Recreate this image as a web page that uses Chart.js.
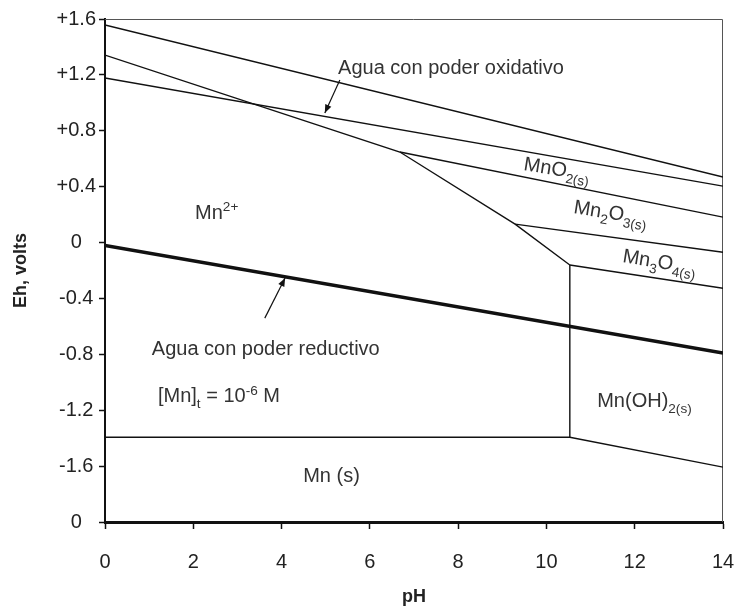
<!DOCTYPE html>
<html>
<head>
<meta charset="utf-8">
<script src="https://cdn.jsdelivr.net/npm/chart.js@4.4.1/dist/chart.umd.min.js"></script>
<style>
  html, body { margin: 0; padding: 0; background: #fff; }
  #wrap { width: 735px; height: 610px; }
</style>
</head>
<body>
<div id="wrap"><canvas id="chart-pourbaix"></canvas></div>
<script>
// limites de fase (pH, Eh en volts)
const phMnO4 = [0, 14];
const ehMnO4 = [1.557, 0.469];

const phAguaOx = [0, 14];
const ehAguaOx = [1.178, 0.404];

const phMn2 = [0, 6.68, 9.29, 10.53];
const ehMn2 = [1.342, 0.648, 0.132, -0.161];

const phMnO2 = [6.68, 14];
const ehMnO2 = [0.648, 0.182];

const phMn2O3 = [9.29, 14];
const ehMn2O3 = [0.132, -0.069];

const phMn3O4 = [10.53, 14];
const ehMn3O4 = [-0.161, -0.327];

const phVertical = [10.53, 10.53];
const ehVertical = [-0.161, -1.393];

const phMnS = [0, 10.53, 14];
const ehMnS = [-1.393, -1.393, -1.607];

const phAguaRed = [0, 14];
const ehAguaRed = [-0.02, -0.79];

const xTicks = [0, 2, 4, 6, 8, 10, 12, 14];

function pares(xs, ys) {
  return xs.map((x, i) => ({ x: x, y: ys[i] }));
}

function linea(xs, ys, ancho) {
  return {
    data: pares(xs, ys),
    showLine: true,
    borderColor: '#111',
    borderWidth: ancho,
    pointRadius: 0,
    fill: false,
    tension: 0
  };
}

// textos del diagrama: [pH, Eh, angulo, partes]
const etiquetas = [
  [5.28, 1.206, 0, [['Agua con poder oxidativo', 'n']]],
  [2.04, 0.168, 0, [['Mn', 'n'], ['2+', 'sup']]],
  [9.47, 0.519, 9, [['MnO', 'n'], ['2(s)', 'sub']]],
  [10.6, 0.211, 9, [['Mn', 'n'], ['2', 'sub'], ['O', 'n'], ['3(s)', 'sub']]],
  [11.71, -0.14, 9, [['Mn', 'n'], ['3', 'sub'], ['O', 'n'], ['4(s)', 'sub']]],
  [11.15, -1.178, 0, [['Mn(OH)', 'n'], ['2(s)', 'sub']]],
  [1.06, -0.806, 0, [['Agua con poder reductivo', 'n']]],
  [1.2, -1.142, 0, [['[Mn]', 'n'], ['t', 'sub'], [' = 10', 'n'], ['-6', 'sup'], [' M', 'n']]],
  [4.49, -1.715, 0, [['Mn (s)', 'n']]]
];

// flechas: [pH inicio, Eh inicio, pH fin, Eh fin]
const flechas = [
  [5.32, 1.163, 4.98, 0.927],
  [3.62, -0.541, 4.08, -0.254]
];

const FUENTE = '"Liberation Sans", Arial, sans-serif';

function textoRico(ctx, partes, x, y, ang, tam) {
  ctx.save();
  ctx.translate(x, y);
  ctx.rotate(ang * Math.PI / 180);
  ctx.fillStyle = '#333';
  ctx.textBaseline = 'alphabetic';
  let cx = 0;
  partes.forEach(p => {
    let t = tam, dy = 0;
    if (p[1] === 'sub') { t = tam * 0.68; dy = tam * 0.3; }
    if (p[1] === 'sup') { t = tam * 0.68; dy = -tam * 0.38; }
    ctx.font = t + 'px ' + FUENTE;
    ctx.fillText(p[0], cx, dy);
    cx += ctx.measureText(p[0]).width;
  });
  ctx.restore();
}

const anotaciones = {
  id: 'anotaciones',
  beforeDatasetsDraw(chart) {
    const { ctx, chartArea: a } = chart;
    ctx.save();
    ctx.strokeStyle = '#555';
    ctx.lineWidth = 1;
    ctx.beginPath();
    ctx.moveTo(a.left, a.top + 0.5);
    ctx.lineTo(a.right - 0.5, a.top + 0.5);
    ctx.lineTo(a.right - 0.5, a.bottom);
    ctx.stroke();
    ctx.restore();
  },
  afterDatasetsDraw(chart) {
    const { ctx, scales: { x, y } } = chart;
    etiquetas.forEach(e => {
      textoRico(ctx, e[3], x.getPixelForValue(e[0]), y.getPixelForValue(e[1]), e[2], 20);
    });
    flechas.forEach(f => {
      const x0 = x.getPixelForValue(f[0]), y0 = y.getPixelForValue(f[1]);
      const x1 = x.getPixelForValue(f[2]), y1 = y.getPixelForValue(f[3]);
      const ang = Math.atan2(y1 - y0, x1 - x0);
      ctx.save();
      ctx.strokeStyle = '#111';
      ctx.fillStyle = '#111';
      ctx.lineWidth = 1.2;
      ctx.beginPath();
      ctx.moveTo(x0, y0);
      ctx.lineTo(x1, y1);
      ctx.stroke();
      ctx.beginPath();
      ctx.moveTo(x1, y1);
      ctx.lineTo(x1 - 9 * Math.cos(ang - 0.38), y1 - 9 * Math.sin(ang - 0.38));
      ctx.lineTo(x1 - 9 * Math.cos(ang + 0.38), y1 - 9 * Math.sin(ang + 0.38));
      ctx.closePath();
      ctx.fill();
      ctx.restore();
    });
  }
};

const dataPourbaix = {
  datasets: [
    linea(phMnO4, ehMnO4, 1.4),
    linea(phAguaOx, ehAguaOx, 1.4),
    linea(phMn2, ehMn2, 1.4),
    linea(phMnO2, ehMnO2, 1.4),
    linea(phMn2O3, ehMn2O3, 1.4),
    linea(phMn3O4, ehMn3O4, 1.4),
    linea(phVertical, ehVertical, 1.4),
    linea(phMnS, ehMnS, 1.4),
    linea(phAguaRed, ehAguaRed, 3.5)
  ]
};

const configPourbaix = {
  type: 'scatter',
  data: dataPourbaix,
  options: {
    responsive: true,
    maintainAspectRatio: false,
    animation: false,
    layout: { padding: { top: 19, right: 12, left: 0, bottom: 0 } },
    plugins: {
      legend: { display: false },
      tooltip: { enabled: false }
    },
    scales: {
      x: {
        type: 'linear',
        min: 0,
        max: 14,
        afterBuildTicks: s => { s.ticks = xTicks.map(v => ({ value: v })); },
        afterFit: s => { s.height = 88; s.paddingRight = 0; s.paddingLeft = 0; },
        grid: { drawOnChartArea: false, tickLength: 7, color: '#111', tickWidth: 1.5 },
        border: { color: '#111', width: 3 },
        ticks: { color: '#222', font: { family: FUENTE, size: 20 }, padding: 21 },
        title: {
          display: true,
          text: 'pH',
          color: '#222',
          font: { family: FUENTE, size: 18, weight: 'bold' },
          padding: { bottom: 2 }
        }
      },
      y: {
        type: 'linear',
        min: -2.0,
        max: 1.6,
        afterFit: s => { s.width = 105; s.paddingTop = 0; s.paddingBottom = 0; },
        grid: { drawOnChartArea: false, tickLength: 6, color: '#111', tickWidth: 1.5 },
        border: { color: '#111', width: 2 },
        ticks: {
          stepSize: 0.4,
          color: '#222',
          font: { family: FUENTE, size: 20 },
          padding: 3,
          crossAlign: 'center',
          callback: v => {
            const r = Math.round(v * 10) / 10;
            if (r === -2) return '0';
            if (r === 0) return '0';
            return r > 0 ? '+' + r.toFixed(1) : r.toFixed(1);
          }
        },
        title: {
          display: true,
          text: 'Eh, volts',
          color: '#222',
          font: { family: FUENTE, size: 18, weight: 'bold' },
          padding: { top: 10 }
        }
      }
    }
  },
  plugins: [anotaciones]
};

const myChartPourbaix = new Chart(
  document.getElementById('chart-pourbaix'),
  configPourbaix
);
</script>
</body>
</html>
